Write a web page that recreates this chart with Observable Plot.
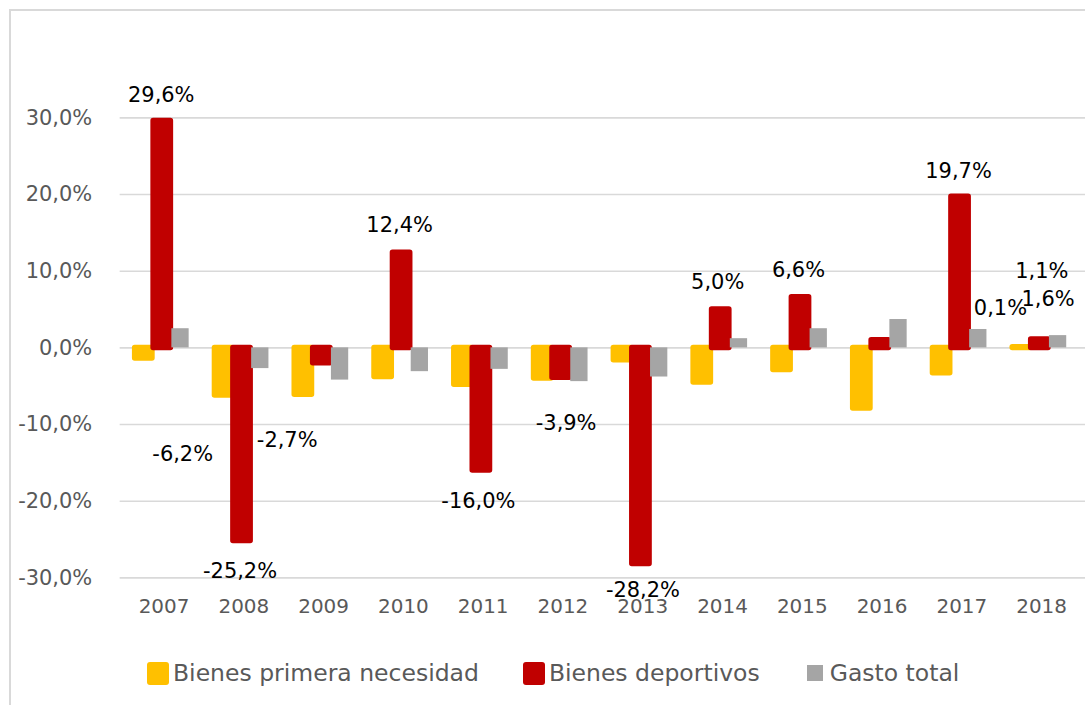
<!DOCTYPE html>
<html>
<head>
<meta charset="utf-8">
<script src="https://cdn.jsdelivr.net/npm/d3@7"></script>
<script src="https://cdn.jsdelivr.net/npm/@observablehq/plot@0.6"></script>
<style>
  html, body { margin: 0; padding: 0; background: #fff; overflow: hidden; }
  body { width: 1085px; height: 705px; position: relative; font-family: "DejaVu Sans", sans-serif; }
  #frame { position: absolute; left: 9px; top: 9px; width: 1200px; height: 800px;
           border-left: 2px solid #d9d9d9; border-top: 2px solid #d9d9d9; }
  #chart { position: absolute; left: 0; top: 0; }
  #legend { position: absolute; left: 147px; top: 659px; display: flex; align-items: center; gap: 44px;
            font-size: 23.5px; color: #595959; }
  .item { display: flex; align-items: center; gap: 4px; }
  .sw { width: 22px; height: 23px; display: flex; align-items: center; justify-content: center; }
  .sw span { display: block; }
</style>
</head>
<body>
<div id="frame"></div>
<div id="chart"></div>
<div id="legend"></div>
<script>
// ---- data ----
const years = ["2007","2008","2009","2010","2011","2012","2013","2014","2015","2016","2017","2018"];
const seriesNames = ["Bienes primera necesidad", "Bienes deportivos", "Gasto total"];
const seriesColors = ["#FFC000", "#C00000", "#A5A5A5"];
const primera    = [-1.4, -6.2, -6.1, -3.8, -4.8, -4.0, -1.6, -4.5, -2.9, -7.9, -3.3, 0.1];
const deportivos = [29.6, -25.2, -2.0, 12.4, -16.0, -3.9, -28.2, 5.0, 6.6, 1.0, 19.7, 1.1];
const gastoTotal = [2.5, -2.7, -4.2, -3.1, -2.8, -4.4, -3.8, 1.2, 2.5, 3.7, 2.4, 1.6];
const yTicks = [-30, -20, -10, 0, 10, 20, 30];
// labelled points: [year, series index]
const labelled = [["2007",1],["2008",0],["2008",1],["2008",2],["2010",1],["2011",1],["2012",1],
                  ["2013",1],["2014",1],["2015",1],["2017",1],["2018",0],["2018",1],["2018",2]];

// ---- layout / styling ----
const W = 1088, H = 640, ML = 120, MR = 0, MT = 117.7, MB = 61;
const step = (W - ML - MR) / years.length;
const barW = 18;
const offsets = [-20.3, -1.8, 16.5];          // centre offset of each series within a year band
const strokeW = [5.5, 5.5, 0];
// label nudges (pixels) relative to bar end: key "year-series"
const nudge = {
  "2007-1": [-1, -26], "2008-0": [-41, 59], "2008-1": [-2, 30], "2008-2": [27, 72],
  "2010-1": [-2, -27.5], "2011-1": [-3, 31], "2012-1": [5, 46], "2013-1": [2, 26],
  "2014-1": [-3, -27], "2015-1": [-2, -27], "2017-1": [-1.5, -26],
  "2018-0": [-21, -39], "2018-1": [2, -68], "2018-2": [-10, -36]
};

const values = [primera, deportivos, gastoTotal];
const rows = values.map((arr, s) => years.map((y, i) => ({year: y, series: s, value: arr[i]})));
const fmt = v => v.toFixed(1).replace(".", ",") + "%";

const barMarks = rows.map((data, s) => {
  const insetLeft = step / 2 + offsets[s] - barW / 2;
  const insetRight = step / 2 - offsets[s] - barW / 2;
  return Plot.barY(data, {
    x: "year", y: "value", fill: seriesColors[s],
    stroke: strokeW[s] ? seriesColors[s] : "none", strokeWidth: strokeW[s], strokeLinejoin: "round",
    insetLeft, insetRight
  });
});

const labelMarks = labelled.map(([yr, s]) => {
  const d = rows[s].find(r => r.year === yr);
  const [ndx, ndy] = nudge[yr + "-" + s];
  return Plot.text([d], {
    x: "year", y: "value", text: r => fmt(r.value),
    dx: offsets[s] + ndx, dy: ndy, fill: "#000", fontSize: 21
  });
});

const chart = Plot.plot({
  width: W, height: H,
  marginLeft: ML, marginRight: MR, marginTop: MT, marginBottom: MB,
  style: { fontFamily: "DejaVu Sans, sans-serif", background: "transparent", overflow: "visible" },
  x: { type: "band", domain: years, padding: 0, label: null },
  y: { domain: [-30, 30], label: null },
  marks: [
    Plot.ruleY(yTicks, { stroke: "#d9d9d9", strokeWidth: 1.6 }),
    Plot.axisY({ ticks: yTicks, tickFormat: fmt, tickSize: 0, tickPadding: 28, fontSize: 21, fill: "#595959", label: null }),
    Plot.axisX({ tickSize: 0, tickPadding: 21, fontSize: 20, fill: "#595959", label: null }),
    ...barMarks,
    ...labelMarks
  ]
});
document.getElementById("chart").appendChild(chart);

// ---- legend ----
const legend = document.getElementById("legend");
seriesNames.forEach((name, s) => {
  const item = document.createElement("div");
  item.className = "item";
  const sw = document.createElement("div");
  sw.className = "sw";
  const inner = document.createElement("span");
  if (s < 2) { inner.style.width = "22px"; inner.style.height = "23px"; inner.style.borderRadius = "3px"; }
  else { inner.style.width = "16px"; inner.style.height = "16px"; }
  inner.style.background = seriesColors[s];
  sw.appendChild(inner);
  const txt = document.createElement("span");
  txt.textContent = name;
  item.appendChild(sw); item.appendChild(txt);
  legend.appendChild(item);
});
</script>
</body>
</html>
